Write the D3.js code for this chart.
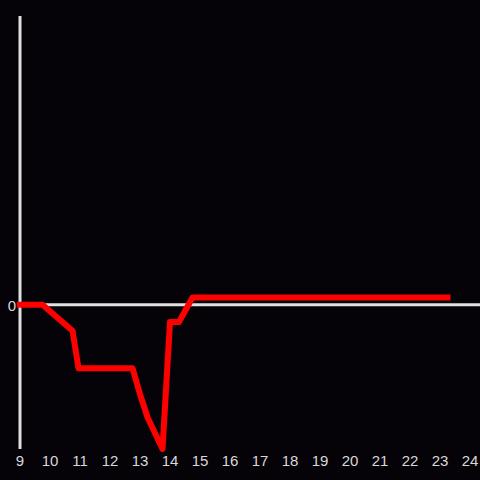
<!DOCTYPE html>
<html>
<head>
<meta charset="utf-8">
<script src="https://cdn.jsdelivr.net/npm/d3@7"></script>
<style>
  body { margin: 0; background: #050307; }
  text { font-family: "Liberation Sans", Arial, sans-serif; }
</style>
</head>
<body>
<svg id="chart" width="480" height="480"></svg>
<script>
const hours = [9, 9.75, 10.75, 10.95, 12.75, 13.0, 13.25, 13.75, 14.0, 14.3, 14.75, 23.25];
const values = [0, 0, -0.18, -0.44, -0.44, -0.62, -0.78, -1.0, -0.12, -0.12, 0.05, 0.05];
const xTicks = d3.range(9, 25);
const yTicks = [0];

const width = 480, height = 480;
const svg = d3.select("#chart");

svg.append("rect")
    .attr("width", width)
    .attr("height", height)
    .attr("fill", "#050307");

const x = d3.scaleLinear().domain([9, 24]).range([20, 470]);
const y = d3.scaleLinear().domain([-1, 2]).range([449, 16]);

// y axis line
svg.append("line")
    .attr("x1", x(9)).attr("x2", x(9))
    .attr("y1", y(2)).attr("y2", y(-1))
    .attr("stroke", "#e0e0e0")
    .attr("stroke-width", 3);

// zero line
svg.append("line")
    .attr("x1", x(9)).attr("x2", width)
    .attr("y1", y(0)).attr("y2", y(0))
    .attr("stroke", "#e0e0e0")
    .attr("stroke-width", 3);

svg.selectAll(".x-label")
    .data(xTicks)
    .enter().append("text")
    .attr("class", "x-label")
    .attr("x", d => x(d))
    .attr("y", 466)
    .attr("text-anchor", "middle")
    .attr("fill", "#d8d8d8")
    .attr("font-size", 15)
    .text(d => d);

svg.selectAll(".y-label")
    .data(yTicks)
    .enter().append("text")
    .attr("class", "y-label")
    .attr("x", 16)
    .attr("y", d => y(d) + 6)
    .attr("text-anchor", "end")
    .attr("fill", "#d8d8d8")
    .attr("font-size", 15)
    .text(d => d);

const line = d3.line()
    .x(d => x(d[0]))
    .y(d => y(d[1]));

svg.append("path")
    .datum(hours.map((h, i) => [h, values[i]]))
    .attr("d", line)
    .attr("fill", "none")
    .attr("stroke", "#ff0000")
    .attr("stroke-width", 6)
    .attr("stroke-linecap", "square")
    .attr("stroke-linejoin", "round");
</script>
</body>
</html>
